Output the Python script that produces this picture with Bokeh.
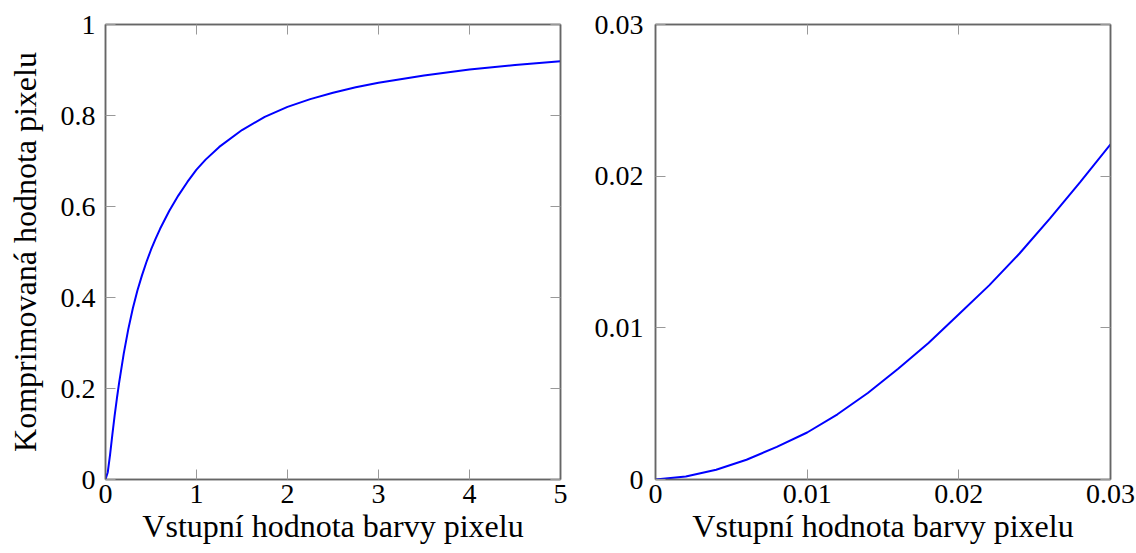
from bokeh.plotting import figure
from bokeh.models import Range1d, FixedTicker, LinearAxis, CustomLabelingPolicy
from bokeh.layouts import row
from bokeh.embed import file_html
from bokeh.resources import INLINE

# ---- data ----
left_x = [0, 0.025, 0.05, 0.075, 0.1, 0.125, 0.15, 0.2, 0.25, 0.3, 0.35, 0.4, 0.45, 0.5,
          0.55, 0.6, 0.7, 0.8, 0.9, 1.0, 1.1, 1.25, 1.5, 1.75, 2.0, 2.25, 2.5, 2.75,
          3.0, 3.5, 4.0, 4.5, 5.0]
left_y = [0, 0.016, 0.054, 0.098, 0.14, 0.178, 0.213, 0.276, 0.33, 0.376, 0.415, 0.448,
          0.478, 0.505, 0.529, 0.551, 0.59, 0.624, 0.654, 0.681, 0.703, 0.731, 0.768,
          0.797, 0.819, 0.836, 0.85, 0.862, 0.872, 0.888, 0.901, 0.911, 0.919]

right_x = [0, 0.002, 0.004, 0.006, 0.008, 0.01, 0.012, 0.014, 0.016, 0.018, 0.02,
           0.022, 0.024, 0.026, 0.028, 0.03]
right_y = [0, 0.0002, 0.00064, 0.0013, 0.00215, 0.0031, 0.0043, 0.0057, 0.0073, 0.009,
           0.0109, 0.0128, 0.0149, 0.0172, 0.0196, 0.0221]

left_xticks = [0, 1, 2, 3, 4, 5]
left_xlabels = ["0", "1", "2", "3", "4", "5"]
left_yticks = [0, 0.2, 0.4, 0.6, 0.8, 1]
left_ylabels = ["0", "0.2", "0.4", "0.6", "0.8", "1"]
right_ticks = [0, 0.01, 0.02, 0.03]
right_labels = ["0", "0.01", "0.02", "0.03"]

x_title = "Vstupní hodnota barvy pixelu"
y_title = "Komprimovaná hodnota pixelu"

FONT = "Liberation Serif"
TICK_FS = "28px"
LAB_FS = "32px"
AXIS_COL = "#666666"
TICK_COL = "#999999"

HIDE_ALL = "for (const i of indices) { indices.unset(i) }\nreturn indices"


def style_axis(ax, ticks, labels, show_labels=True):
    ax.ticker = FixedTicker(ticks=ticks)
    ax.major_tick_in = 10
    ax.major_tick_out = 0
    ax.minor_tick_in = 0
    ax.minor_tick_out = 0
    ax.major_tick_line_color = TICK_COL
    ax.major_tick_line_width = 1
    ax.axis_line_color = AXIS_COL
    ax.axis_line_width = 1.5
    ax.major_label_text_font = FONT
    ax.major_label_text_color = "black"
    if show_labels:
        ax.major_label_overrides = {t: l for t, l in zip(ticks, labels)}
        ax.major_label_text_font_size = TICK_FS
    else:
        ax.major_label_policy = CustomLabelingPolicy(code=HIDE_ALL)
        ax.major_label_text_font_size = "1px"
        ax.major_label_standoff = 0


def make(xs, ys, xr, yr, xticks, xlabels, yticks, ylabels, width, bl, br, ylab, ystand):
    p = figure(width=width, height=553, output_backend="svg", toolbar_location=None,
               x_range=Range1d(*xr), y_range=Range1d(*yr),
               min_border_left=bl, min_border_right=br, min_border_top=24, min_border_bottom=74)
    p.grid.visible = False
    p.outline_line_color = AXIS_COL
    p.outline_line_width = 1.5
    p.background_fill_color = "white"
    p.border_fill_color = "white"
    p.line(xs, ys, line_color="#0000ff", line_width=2)

    xa = p.xaxis[0]
    style_axis(xa, xticks, xlabels)
    xa.major_label_standoff = 5
    xa.axis_label = x_title
    xa.axis_label_text_font = FONT
    xa.axis_label_text_font_size = LAB_FS
    xa.axis_label_text_font_style = "normal"
    xa.axis_label_text_color = "black"
    xa.axis_label_standoff = 2

    ya = p.yaxis[0]
    style_axis(ya, yticks, ylabels)
    ya.major_label_standoff = ystand
    if ylab:
        ya.axis_label = ylab
        ya.axis_label_text_font = FONT
        ya.axis_label_text_font_size = LAB_FS
        ya.axis_label_text_font_style = "normal"
        ya.axis_label_text_color = "black"
        ya.axis_label_standoff = 15

    top = LinearAxis()
    style_axis(top, xticks, xlabels, show_labels=False)
    p.add_layout(top, "above")
    right = LinearAxis()
    style_axis(right, yticks, ylabels, show_labels=False)
    p.add_layout(right, "right")
    return p


p1 = make(left_x, left_y, (0, 5), (0, 1), left_xticks, left_xlabels, left_yticks, left_ylabels,
          585, 105, 25, y_title, 10)
p2 = make(right_x, right_y, (0, 0.03), (0, 0.03), right_ticks, right_labels, right_ticks, right_labels,
          551, 70, 26, None, 12)

layout = row(p1, p2)
open("out.html", "w").write(file_html(layout, INLINE))
